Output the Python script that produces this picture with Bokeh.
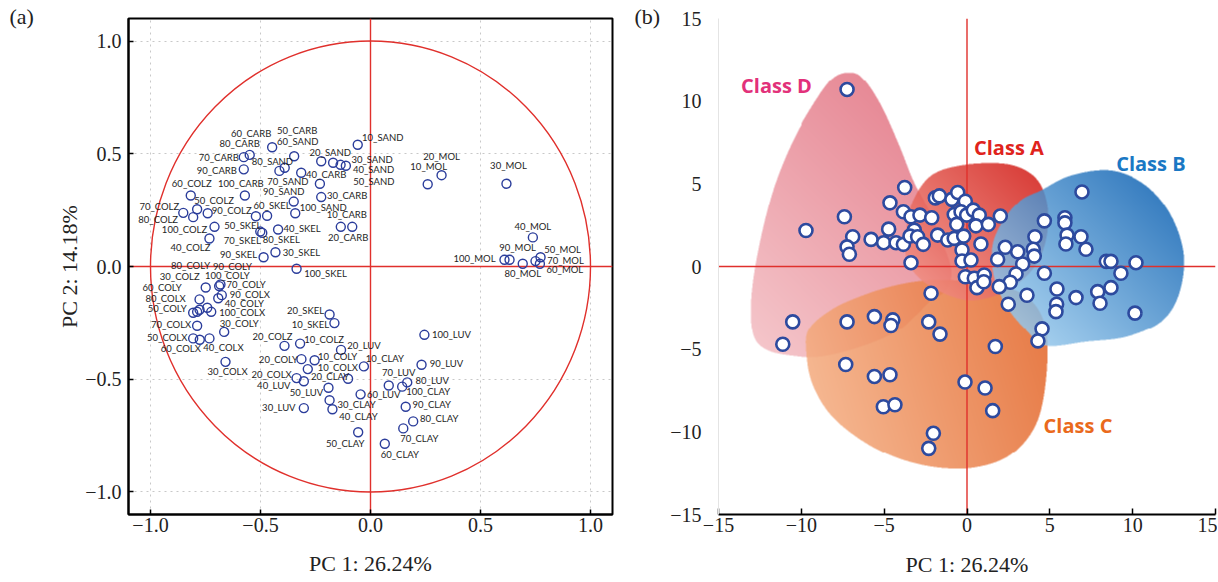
import numpy as np
from bokeh.plotting import figure
from bokeh.layouts import row
from bokeh.models import Span, FixedTicker, CustomJSTickFormatter
from bokeh.core.properties import value
from bokeh.embed import file_html
from bokeh.resources import INLINE

# ---------------- Panel (a): variable loadings ----------------
var_names = ["60_CARB","50_CARB","60_SAND","80_CARB","70_CARB","80_SAND","90_CARB","20_SAND","10_SAND","30_SAND",
             "40_SAND","50_SAND","40_CARB","70_SAND","90_SAND","100_CARB","30_CARB","60_COLZ","50_COLZ","70_COLZ",
             "80_COLZ","90_COLZ","60_SKEL","50_SKEL","100_SAND","10_CARB","20_CARB","100_COLZ","40_COLZ","70_SKEL",
             "80_SKEL","40_SKEL","30_SKEL","90_SKEL","100_SKEL",
             "30_COLZ","70_COLY","80_COLX","90_COLX","40_COLY","50_COLY","100_COLX","70_COLX","30_COLY","50_COLX",
             "60_COLX","40_COLX","30_COLX","80_COLY","90_COLY","100_COLY","60_COLY",
             "20_SKEL","10_SKEL","20_COLZ","10_COLZ","20_LUV","20_COLY","10_COLY","10_COLX","10_CLAY","20_COLX",
             "40_LUV","20_CLAY","50_LUV","30_LUV","60_LUV","30_CLAY","40_CLAY","50_CLAY","60_CLAY","70_CLAY",
             "80_CLAY","90_CLAY","100_CLAY","80_LUV","70_LUV","90_LUV","100_LUV",
             "10_MOL","20_MOL","30_MOL","40_MOL","50_MOL","60_MOL","70_MOL","80_MOL","90_MOL","100_MOL"]
pc1_loading = [-0.447,-0.347,-0.390,-0.549,-0.576,-0.414,-0.576,-0.224,-0.058,-0.170,
               -0.136,-0.112,-0.315,-0.230,-0.349,-0.571,-0.224,-0.817,-0.788,-0.851,
               -0.806,-0.740,-0.470,-0.521,-0.342,-0.135,-0.083,-0.709,-0.732,-0.501,
               -0.492,-0.420,-0.432,-0.486,-0.336,
               -0.749,-0.688,-0.777,-0.676,-0.692,-0.806,-0.724,-0.788,-0.665,-0.806,
               -0.776,-0.732,-0.659,-0.777,-0.682,-0.742,-0.788,
               -0.186,-0.164,-0.391,-0.320,-0.134,-0.314,-0.254,-0.285,-0.030,-0.336,
               -0.303,-0.102,-0.191,-0.303,-0.045,-0.186,-0.173,-0.056,0.065,0.149,
               0.194,0.160,0.144,0.167,0.083,0.232,0.245,
               0.260,0.323,0.618,0.738,0.773,0.770,0.750,0.692,0.632,0.609]
pc2_loading = [0.529,0.489,0.438,0.495,0.485,0.424,0.431,0.467,0.540,0.460,
               0.451,0.447,0.416,0.367,0.288,0.315,0.308,0.315,0.254,0.238,
               0.219,0.236,0.225,0.223,0.236,0.176,0.176,0.176,0.124,0.155,
               0.149,0.164,0.063,0.041,-0.010,
               -0.093,-0.087,-0.146,-0.127,-0.141,-0.205,-0.201,-0.263,-0.290,-0.319,
               -0.325,-0.319,-0.423,-0.192,-0.080,-0.183,-0.201,
               -0.213,-0.251,-0.352,-0.342,-0.370,-0.411,-0.416,-0.455,-0.443,-0.495,
               -0.509,-0.498,-0.538,-0.628,-0.567,-0.593,-0.633,-0.735,-0.786,-0.718,
               -0.687,-0.622,-0.533,-0.514,-0.528,-0.436,-0.303,
               0.365,0.405,0.367,0.129,0.041,0.012,0.024,0.012,0.030,0.030]

# label placement (pixel offsets from the marker, layout only)
label_dx = [-21,3,13,-10,-25,-7,-27,9,25,39,
            33,28,25,-32,-10,-4,26,1,17,-24,
            -35,24,5,-13,28,6,-4,-30,-19,-18,
            19,24,26,-25,29,
            -26,27,-34,28,26,-26,31,-26,15,-26,
            -19,14,2,-9,12,20,-35,
            -24,-24,-12,24,23,-23,23,30,21,-25,
            -30,-18,-22,-25,23,27,26,-13,15,16,
            26,26,26,25,10,25,27,
            1,0,2,0,22,25,30,0,8,-30]
label_dy = [-14,-26,-26,-11,0,-9,1,-9,-7,-3,
            5,16,2,-2,-10,-12,-2,-12,-9,-6,
            2,-3,-10,9,-6,-12,11,3,9,9,
            7,-1,0,-3,5,
            -11,-2,-1,-1,5,-4,1,-1,-8,-1,
            9,9,10,-44,-18,-32,-24,
            -4,1,-9,-4,-4,0,-4,-2,-8,-4,
            4,-2,5,-1,0,4,7,11,11,10,
            -3,-2,5,-2,-13,-1,0,
            -18,-19,-18,-11,-8,6,-1,10,-12,-1]

# ---------------- Panel (b): sample scores ----------------
score_pc1 = [-9.72,-7.40,-6.90,-7.24,-7.10,-3.76,-4.65,-3.84,-3.38,-2.84,-2.13,-4.73,-3.18,-5.79,-5.03,-4.28,-3.84,
             -3.44,-2.98,-2.64,-1.77,-1.16,-0.77,-1.91,-1.67,-0.91,-0.56,-0.10,-0.77,-0.36,-0.02,0.38,0.74,-0.62,
             0.54,1.29,-0.20,0.84,-0.30,-0.30,0.24,-3.38,-0.10,0.44,1.04,0.60,-2.17,
             6.94,4.67,5.91,5.91,6.04,6.88,5.97,7.18,4.10,4.00,4.06,3.36,3.06,2.31,1.85,2.01,2.96,2.61,1.95,1.01,
             4.67,3.62,2.49,5.43,5.41,5.37,6.58,7.89,8.03,8.69,8.41,8.69,10.20,9.29,10.14,
             -10.52,-11.12,-7.24,-5.59,-4.48,-4.59,-2.31,-1.63,1.71,-7.32,-5.59,-4.65,-5.05,-4.35,-0.12,1.09,1.55,
             -2.03,-2.31,-7.24,4.53,4.28]
score_pc2 = [2.18,3.01,1.80,1.19,0.74,4.78,3.85,3.31,3.01,3.11,2.95,2.26,2.20,1.64,1.44,1.44,1.34,
             1.84,1.80,1.34,1.90,1.60,1.70,4.15,4.27,4.06,4.48,3.95,3.15,3.31,3.11,3.41,3.11,2.55,
             2.46,2.55,1.84,1.36,1.00,0.33,0.39,0.23,-0.62,-0.71,-0.51,-1.28,-1.62,
             4.51,2.76,2.95,2.64,1.90,1.80,1.36,1.04,1.80,1.04,0.63,0.15,0.89,1.16,0.43,3.05,-0.45,-0.95,-1.22,-0.92,
             -0.41,-1.74,-2.28,-1.36,-2.28,-2.73,-1.88,-1.52,-2.22,-1.28,0.31,0.31,0.23,-0.41,-2.82,
             -3.35,-4.70,-3.35,-3.03,-3.23,-3.57,-3.35,-4.09,-4.84,-5.93,-6.65,-6.55,-8.48,-8.36,-6.99,-7.35,-8.72,
             -10.09,-11.00,10.71,-3.77,-4.50]

# class region outlines (PC1, PC2 units)
classD_x = [-7.12,-6.28,-5.19,-4.10,-3.26,-2.47,-1.57,-0.97,-1.27,-2.17,-3.08,-4.28,-6.40,-8.81,-10.62,-12.13,-12.91,-13.04,-12.61,-11.71,-10.50,-9.11,-8.09]
classD_y = [11.74,11.38,9.75,7.33,5.22,3.71,1.60,-0.21,-1.42,-2.02,-2.93,-3.95,-4.86,-5.46,-5.40,-5.04,-4.13,-2.02,1.00,4.62,7.63,10.05,11.38]
classA_x = [-2.17,-0.36,2.05,3.56,4.47,4.89,4.77,4.16,2.96,1.45,-0.06,-1.57,-2.90,-3.68,-3.68,-3.26]
classA_y = [5.52,6.13,6.25,5.82,4.92,3.41,1.60,0.09,-1.12,-1.84,-2.02,-1.54,-0.69,0.51,2.20,4.01]
classB_x = [4.47,6.28,8.69,10.80,12.31,13.10,12.79,11.71,9.60,7.18,4.77,3.56,2.35,1.63,1.57,2.23,3.26]
classB_y = [4.62,5.52,5.82,4.92,3.11,0.69,-1.72,-3.35,-4.26,-4.56,-4.80,-3.83,-2.32,-0.51,1.30,2.81,4.01]
classC_x = [-9.54,-8.21,-6.40,-4.28,-2.17,-0.06,2.05,3.86,4.77,4.77,4.16,2.66,0.54,-1.87,-4.28,-6.40,-8.21,-9.29,-9.66]
classC_y = [-3.83,-2.63,-1.78,-1.12,-0.81,-0.88,-1.12,-2.02,-3.83,-6.85,-9.56,-11.38,-12.16,-12.16,-11.56,-10.47,-8.96,-7.15,-5.34]
class_names = ["Class D", "Class A", "Class B", "Class C"]
class_label_x = [-11.5, 2.53, 11.10, 6.70]
class_label_y = [10.95, 7.21, 6.25, -9.63]

# ---------------- helpers ----------------
SERIF = "Liberation Serif"
RED = "#e0302c"


def smooth_closed(xs, ys, n=8):
    P = np.column_stack([xs, ys]).astype(float)
    m = len(P)
    out = []
    for i in range(m):
        p0, p1, p2, p3 = P[(i - 1) % m], P[i], P[(i + 1) % m], P[(i + 2) % m]
        for t in np.linspace(0, 1, n, endpoint=False):
            t2, t3 = t * t, t * t * t
            out.append(0.5 * (2 * p1 + (-p0 + p2) * t + (2 * p0 - 5 * p1 + 4 * p2 - p3) * t2
                              + (-p0 + 3 * p1 - 3 * p2 + p3) * t3))
    out = np.array(out)
    return out[:, 0], out[:, 1]


def inside(px, py, X, Y):
    res = np.zeros(X.shape, bool)
    n = len(px)
    j = n - 1
    with np.errstate(divide="ignore", invalid="ignore"):
        for i in range(n):
            xi, yi, xj, yj = px[i], py[i], px[j], py[j]
            if yi != yj:
                c = ((yi > Y) != (yj > Y)) & (X < (xj - xi) * (Y - yi) / (yj - yi) + xi)
                res ^= c
            j = i
    return res


def region_image(regions, lo=-15.0, hi=15.0, N=500, SS=2):
    M = N * SS
    sub = lo + (np.arange(M) + 0.5) * (hi - lo) / M
    cc = lo + (np.arange(N) + 0.5) * (hi - lo) / N
    CX, CY = np.meshgrid(cc, cc)
    canvas = np.ones((N, N, 3)) * 255.0
    for bx, by, c0, c1, alpha, d in regions:
        sx, sy = smooth_closed(bx, by)
        i0 = max(int((sx.min() - lo) / (hi - lo) * N) - 1, 0)
        i1 = min(int((sx.max() - lo) / (hi - lo) * N) + 2, N)
        j0 = max(int((sy.min() - lo) / (hi - lo) * N) - 1, 0)
        j1 = min(int((sy.max() - lo) / (hi - lo) * N) + 2, N)
        X, Y = np.meshgrid(sub[i0 * SS:i1 * SS], sub[j0 * SS:j1 * SS])
        m = inside(sx, sy, X, Y).astype(float)
        cov = m.reshape(j1 - j0, SS, i1 - i0, SS).mean(axis=(1, 3))
        full = np.zeros((N, N))
        full[j0:j1, i0:i1] = cov
        dv = np.array(d, float)
        dv /= np.linalg.norm(dv)
        proj = sx * dv[0] + sy * dv[1]
        t = ((CX * dv[0] + CY * dv[1]) - proj.min()) / (proj.max() - proj.min())
        t = np.clip(t, 0, 1)[..., None]
        col = np.array(c0, float) * (1 - t) + np.array(c1, float) * t
        a = (alpha * full)[..., None]
        canvas = canvas * (1 - a) + col * a
    img = np.empty((N, N), dtype=np.uint32)
    v = img.view(dtype=np.uint8).reshape((N, N, 4))
    v[:, :, :3] = np.clip(canvas, 0, 255).astype(np.uint8)
    v[:, :, 3] = 255
    return img


def style_axis(ax, size="20px"):
    ax.major_label_text_font = SERIF
    ax.major_label_text_font_size = size
    ax.major_label_text_color = "#222222"
    ax.axis_label_text_font = SERIF
    ax.axis_label_text_font_size = "22px"
    ax.axis_label_text_font_style = "normal"
    ax.axis_label_text_color = "#222222"
    ax.minor_tick_line_color = None


def panel_tag(p, text, offset):
    p.title.text = text
    p.title.align = "left"
    p.title.offset = offset
    p.title.standoff = -20
    p.title.vertical_align = "bottom"
    p.title.text_font = SERIF
    p.title.text_font_size = "22px"
    p.title.text_font_style = "normal"
    p.title.text_color = "#222222"


# ---------------- Panel (a) ----------------
pa = figure(width=626, height=582, x_range=(-1.1, 1.1), y_range=(-1.1, 1.1),
            output_backend="svg", toolbar_location=None,
            min_border_left=128, min_border_right=14, min_border_top=18, min_border_bottom=68)
panel_tag(pa, "(a)", -119)
pa.outline_line_color = "black"
pa.outline_line_width = 2
pa.outline_line_alpha = 1
ticks_a = [-1.0, -0.5, 0.0, 0.5, 1.0]
fmt_a = CustomJSTickFormatter(code="return (tick < 0 ? '\u2212' : '') + Math.abs(tick).toFixed(1);")
for ax in (pa.xaxis[0], pa.yaxis[0]):
    ax.ticker = FixedTicker(ticks=ticks_a)
    ax.formatter = fmt_a
    style_axis(ax)
    ax.axis_line_color = "black"
    ax.axis_line_width = 2
    ax.major_tick_in = 5
    ax.major_tick_out = 0
    ax.major_tick_line_width = 1.5
pa.xaxis.axis_label = "PC 1: 26.24%"
pa.yaxis.axis_label = "PC 2: 14.18%"
pa.xaxis.major_label_standoff = 3
pa.xaxis.axis_label_standoff = 16
pa.yaxis.major_label_standoff = 7
pa.yaxis.axis_label_standoff = 0
for g in (pa.xgrid[0], pa.ygrid[0]):
    g.ticker = FixedTicker(ticks=ticks_a)
    g.grid_line_color = "#c8c8c8"
    g.grid_line_dash = "dotted"
    g.grid_line_width = 1

pa.ellipse(x=[0], y=[0], width=[2], height=[2], fill_color=None, line_color=RED, line_width=1.4)
pa.add_layout(Span(location=0, dimension="height", line_color=RED, line_width=1.4, level="underlay"))
pa.add_layout(Span(location=0, dimension="width", line_color=RED, line_width=1.4, level="underlay"))

src_a = dict(x=pc1_loading, y=pc2_loading, name=var_names, dx=label_dx, dy=label_dy)
pa.scatter("x", "y", source=src_a, marker="circle", size=9, fill_color="white", fill_alpha=0,
           line_color="#2b3d9b", line_width=1.4)
pa.text("x", "y", text="name", source=src_a, x_offset="dx", y_offset="dy",
        text_align="center", text_baseline="middle", text_font=value("Lato"),
        text_font_size="9.5px", text_color="#1e1e1e")

# ---------------- Panel (b) ----------------
pb = figure(width=591, height=582, x_range=(-15, 15), y_range=(-15, 15),
            output_backend="svg", toolbar_location=None,
            min_border_left=92, min_border_right=2, min_border_top=18, min_border_bottom=67)
panel_tag(pb, "(b)", -84)
pb.outline_line_color = None
pb.grid.visible = False
ticks_b = [-15, -10, -5, 0, 5, 10, 15]
fmt_b = CustomJSTickFormatter(code="return (tick < 0 ? '\u2212' : '') + Math.abs(tick).toFixed(0);")
for ax in (pb.xaxis[0], pb.yaxis[0]):
    ax.ticker = FixedTicker(ticks=ticks_b)
    ax.formatter = fmt_b
    style_axis(ax)
pb.xaxis.axis_line_color = "black"
pb.xaxis.axis_line_width = 2
pb.xaxis.major_tick_in = 6
pb.xaxis.major_tick_out = 0
pb.xaxis.major_tick_line_width = 1.5
pb.xaxis.major_label_standoff = 3
pb.xaxis.axis_label = "PC 1: 26.24%"
pb.xaxis.axis_label_standoff = 17
pb.yaxis.axis_line_color = "#e4e4e4"
pb.yaxis.major_tick_line_color = None
pb.yaxis.major_label_standoff = 11

regions = [
    (classD_x, classD_y, (244, 194, 199), (230, 132, 145), 0.95, (1, 1)),
    (classC_x, classC_y, (244, 172, 128), (228, 104, 44), 0.87, (1, 0.3)),
    (classA_x, classA_y, (240, 140, 128), (212, 36, 30), 0.87, (1, 1)),
    (classB_x, classB_y, (150, 200, 236), (22, 104, 182), 0.85, (1, 1)),
]
img = region_image(regions)
pb.image_rgba(image=[img], x=-15, y=-15, dw=30, dh=30)
pb.segment(x0=[0, -15], y0=[-15, 0], x1=[0, 15], y1=[15, 0], line_color=RED, line_width=1.4)
pb.scatter(score_pc1, score_pc2, marker="circle", size=13, fill_color="white",
           line_color="#2d4a9e", line_width=2.6)
pb.text(class_label_x, class_label_y, text=class_names, text_align="center", text_baseline="middle",
        text_font=value("Open Sans"), text_font_style="bold", text_font_size="20px",
        text_color=["#e2317a", "#e0231c", "#1a78c4", "#ea6a1c"])

layout = row(pa, pb)
open("out.html", "w").write(file_html(layout, INLINE))
